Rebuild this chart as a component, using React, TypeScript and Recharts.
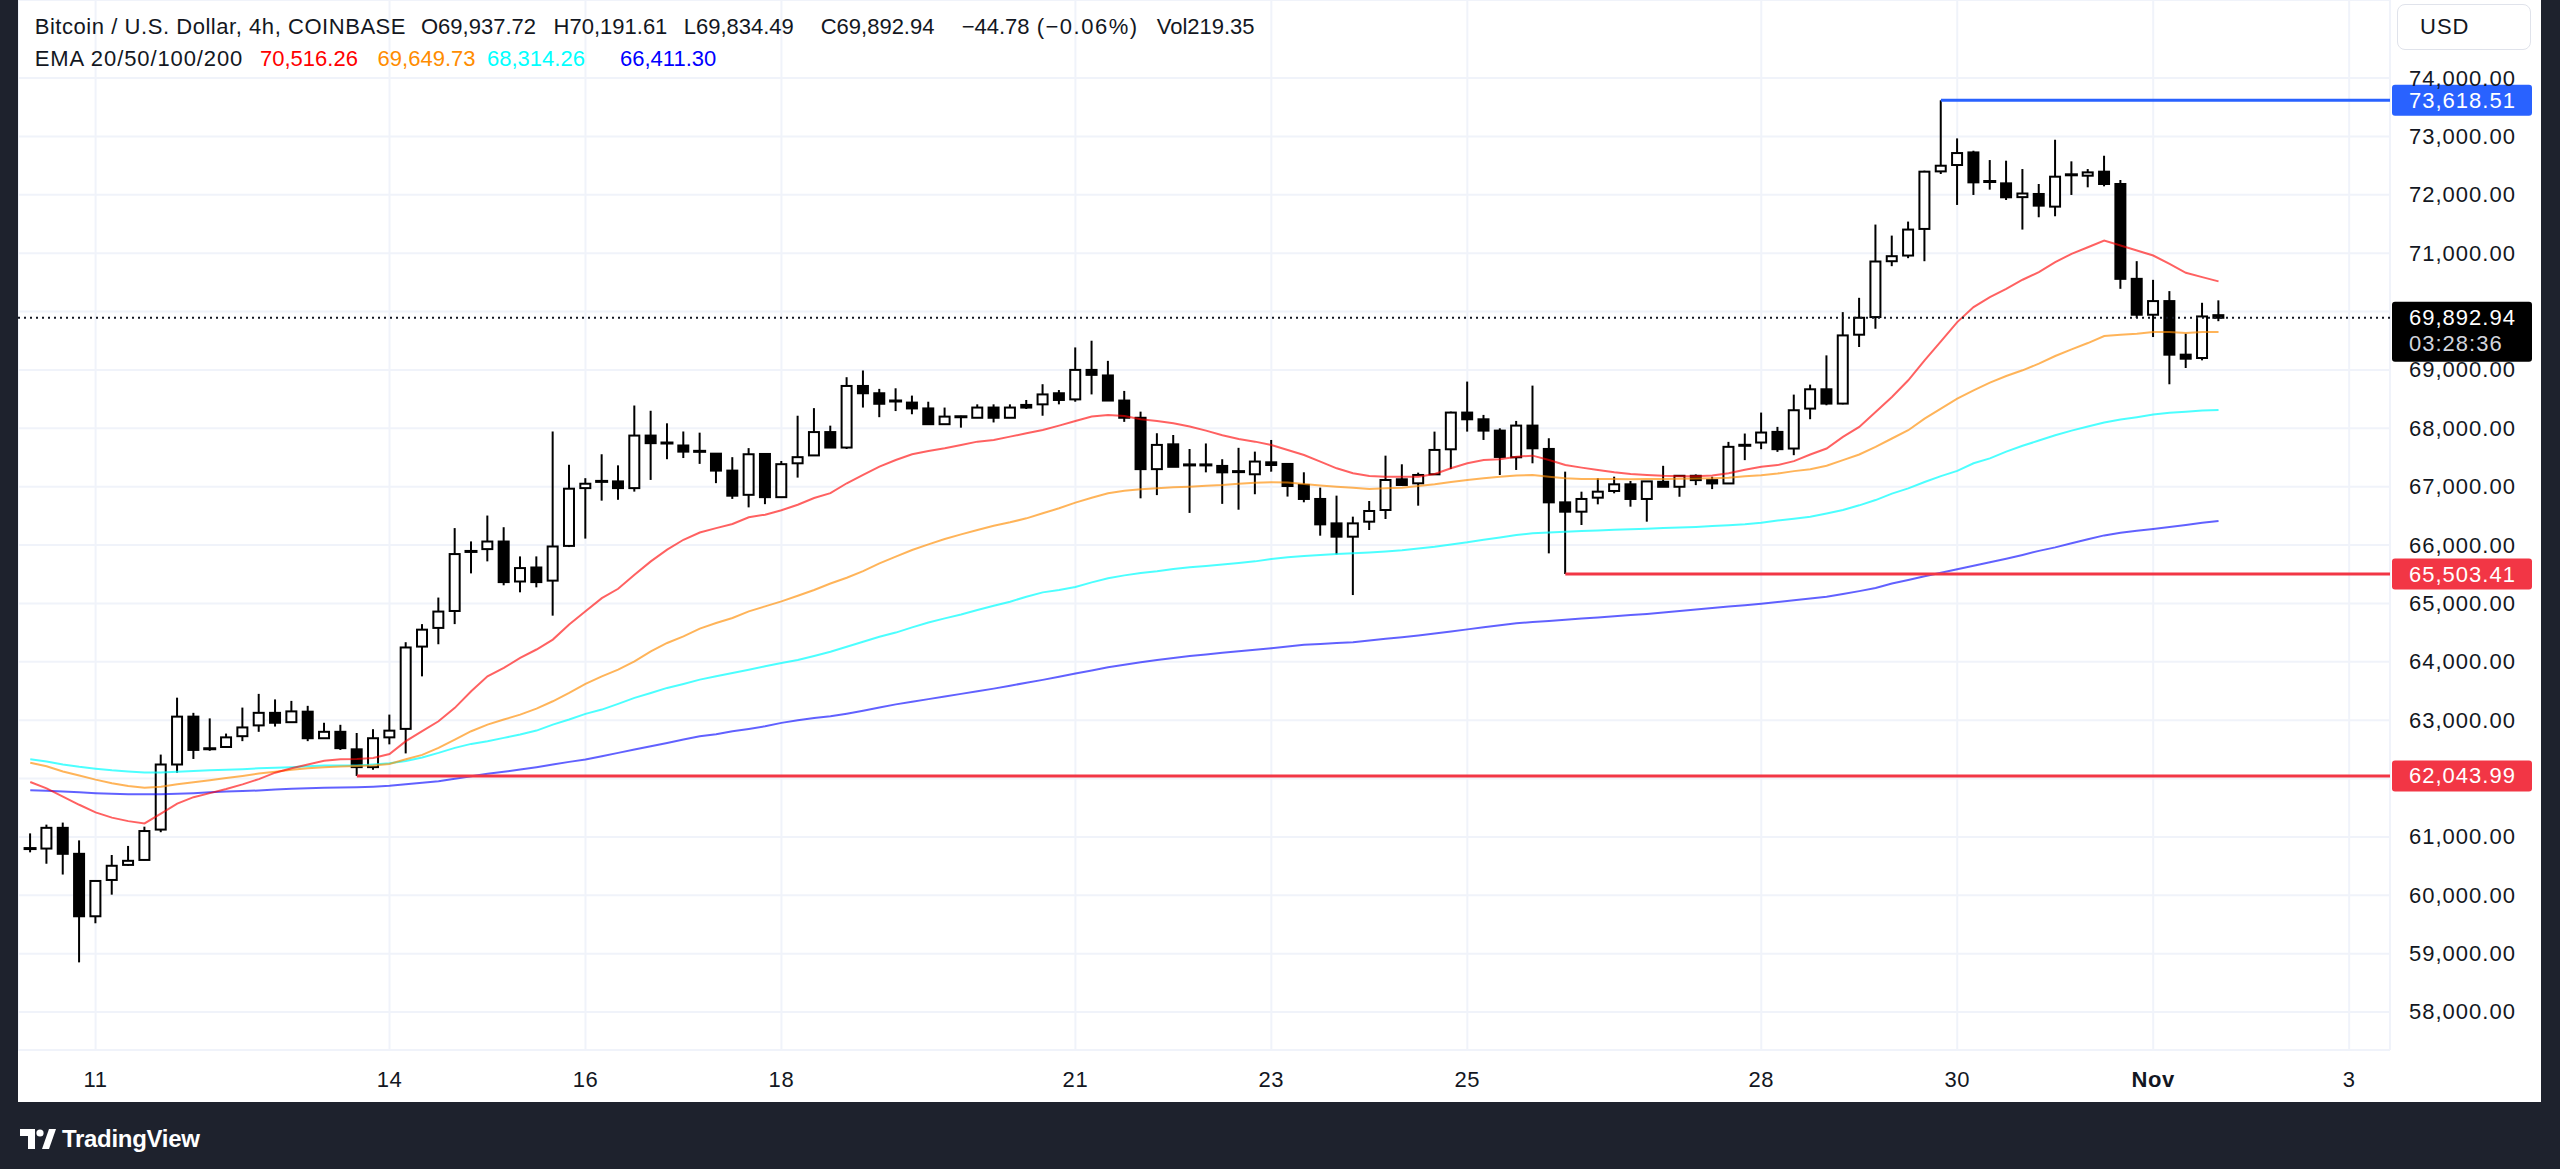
import React from 'react';
import { ComposedChart, Bar, Line, XAxis, YAxis, CartesianGrid, ReferenceLine } from 'recharts';

// ---------- data ----------
const candleStartIndex = -4; // first candle is 4 bars (16h) before Oct 11 00:00

const opens = [
  60790, 60800, 61155, 60710, 59640, 60262, 60520, 60605, 61125, 62240,
  63060, 62490, 62540, 62725, 62910, 63125, 62965, 63145, 62690, 62800,
  62500, 62195, 62705, 62850, 64260, 64580, 64870, 65880, 65930, 66060,
  65375, 65615, 65390, 65985, 66975, 67085, 67090, 66975, 67875, 67745,
  67705, 67610, 67565, 67275, 66860, 67560, 66820, 67400, 67535, 67935,
  67670, 68725, 68600, 68470, 68440, 68340, 68070, 68200, 68180, 68355,
  68180, 68400, 68410, 68600, 68495, 69000, 68905, 68475, 68180, 67300,
  67725, 67370, 67370, 67355, 67255, 67212, 67417, 67389, 67029, 66789,
  66371, 66143, 66400, 66600, 67126, 67057, 67211, 67640, 68269, 68154,
  67960, 67503, 68046, 67646, 66731, 66571, 66811, 66926, 67040, 66789,
  67083, 66998, 67186, 67112, 67055, 67705, 67756, 67938, 67653, 68337,
  68668, 68423, 69603, 69905, 70862, 70959, 71415, 72401, 72510, 72726,
  72230, 72196, 71960, 72014, 71797, 72340, 72327, 72396, 72185, 70560,
  69945, 70179, 69261, 69204, 69937.72,
];
const highs = [
  61060, 61210, 61245, 60940, 60260, 60690, 60845, 61175, 62410, 63385,
  63125, 63030, 62770, 63215, 63450, 63355, 63330, 63245, 62955, 62920,
  62780, 62845, 63095, 64335, 64645, 65100, 66290, 66062, 66505, 66305,
  65805, 65805, 67945, 67375, 67145, 67555, 67365, 68390, 68300, 68085,
  67945, 67925, 67575, 67505, 67660, 67575, 67440, 68215, 68345, 68045,
  68875, 68990, 68675, 68685, 68560, 68455, 68355, 68215, 68410, 68410,
  68410, 68485, 68755, 68655, 69385, 69500, 69155, 68640, 68285, 67915,
  67885, 67645, 67740, 67470, 67665, 67600, 67800, 67395, 67246, 66983,
  66846, 66486, 66754, 67531, 67383, 67240, 67943, 68286, 68800, 68229,
  68000, 68126, 68731, 67829, 67257, 66914, 67143, 67171, 67097, 67097,
  67357, 67186, 67209, 67169, 67767, 67910, 68269, 68024, 68577, 68748,
  69249, 69990, 70235, 71490, 71301, 71541, 72413, 73618.51, 72966, 72755,
  72595, 72584, 72441, 72185, 72943, 72573, 72441, 72669, 72253, 70863,
  70543, 70350, 69620, 70150, 70191.61,
];
const lows = [
  60735, 60540, 60355, 58850, 59520, 60010, 60505, 60600, 61080, 62100,
  62335, 62475, 62530, 62640, 62800, 62890, 62960, 62640, 62680, 62490,
  62043.99, 62150, 62585, 62430, 63750, 64300, 64645, 65514, 65720, 65310,
  65190, 65275, 64790, 65965, 66110, 66760, 66775, 66915, 67115, 67470,
  67490, 67390, 67060, 66790, 66645, 66700, 66815, 67155, 67530, 67665,
  67645, 68355, 68190, 68295, 68240, 68065, 68065, 68010, 68175, 68100,
  68175, 68330, 68215, 68410, 68455, 68580, 68470, 68110, 66800, 66855,
  67340, 66550, 67245, 66705, 66605, 66870, 67257, 66830, 66732, 66160,
  65840, 65143, 66257, 66446, 67017, 66674, 67200, 67303, 67943, 67800,
  67200, 67286, 67400, 65857, 65503.41, 66343, 66697, 66886, 66657, 66400,
  66998, 66827, 67026, 66958, 67055, 67454, 67642, 67596, 67539, 68155,
  68394, 68410, 69392, 69705, 70777, 70914, 70862, 72356, 71826, 71997,
  72088, 71911, 71404, 71615, 71632, 71997, 72128, 72145, 70389, 69888,
  69563, 68754, 69033, 69164, 69834.49,
];
const closes = [
  60810, 61155, 60710, 59640, 60245, 60505, 60590, 61100, 62240, 63060,
  62490, 62530, 62705, 62875, 63125, 62955, 63150, 62690, 62800, 62520,
  62195, 62690, 62820, 64245, 64550, 64860, 65845, 65900, 66060, 65365,
  65605, 65365, 65975, 66965, 67050, 67095, 66975, 67875, 67745, 67750,
  67600, 67600, 67275, 66845, 67555, 66820, 67385, 67505, 67935, 67670,
  68725, 68600, 68420, 68465, 68340, 68070, 68200, 68195, 68355, 68180,
  68355, 68355, 68580, 68485, 69000, 68915, 68475, 68180, 67300, 67715,
  67340, 67375, 67375, 67245, 67260, 67430, 67371, 67011, 66789, 66354,
  66143, 66371, 66583, 67114, 67029, 67200, 67629, 68269, 68154, 67960,
  67509, 68046, 67657, 66731, 66571, 66789, 66914, 67040, 66789, 67090,
  66998, 67186, 67112, 67055, 67682, 67712, 67927, 67642, 68309, 68668,
  68423, 69591, 69893, 70857, 70948, 71404, 72396, 72498, 72715, 72213,
  72225, 71957, 72022, 71814, 72310, 72345, 72384, 72185, 70560, 69945,
  70179, 69261, 69192, 69916, 69892.94,
];

const ema20 = [
  61940, 61830, 61690, 61550, 61420, 61330, 61270, 61230, 61400, 61570,
  61680, 61750, 61820, 61900, 61990, 62100, 62175, 62240, 62305, 62330,
  62335, 62350, 62420, 62640, 62810, 62980, 63210, 63495, 63750, 63895,
  64065, 64210, 64380, 64640, 64865, 65090, 65250, 65490, 65720, 65920,
  66090, 66215, 66290, 66360, 66475, 66520, 66595, 66690, 66805, 66888,
  67058, 67200, 67343, 67457, 67554, 67611, 67657, 67714, 67771, 67800,
  67857, 67914, 67971, 68046, 68126, 68200, 68229, 68211, 68154, 68126,
  68086, 68029, 67960, 67880, 67817, 67771, 67714, 67629, 67543, 67429,
  67314, 67229, 67183, 67171, 67171, 67171, 67217, 67314, 67400, 67457,
  67469, 67514, 67531, 67457, 67371, 67326, 67286, 67246, 67217, 67200,
  67186, 67180, 67180, 67190, 67230, 67290, 67340, 67369, 67437, 67551,
  67653, 67853, 68024, 68280, 68537, 68822, 69164, 69489, 69819, 70076,
  70247, 70389, 70545, 70675, 70846, 70988, 71102, 71216, 71130, 71045,
  70959, 70817, 70663, 70589, 70516.26,
];
const ema50 = [
  62270, 62210, 62121, 62050, 61981, 61920, 61870, 61842, 61860, 61900,
  61935, 61970, 62009, 62045, 62084, 62115, 62149, 62175, 62195, 62205,
  62213, 62225, 62250, 62330, 62405, 62525, 62667, 62810, 62924, 63010,
  63095, 63198, 63323, 63466, 63620, 63751, 63865, 64008, 64179, 64322,
  64436, 64567, 64664, 64750, 64864, 64949, 65035, 65130, 65230, 65340,
  65440, 65554, 65686, 65800, 65914, 66011, 66103, 66183, 66257, 66331,
  66389, 66457, 66543, 66629, 66726, 66811, 66886, 66931, 66954, 66971,
  66989, 67000, 67017, 67029, 67050, 67065, 67074, 67070, 67046, 67020,
  67000, 66980, 66960, 66971, 66983, 67010, 67040, 67080, 67114, 67145,
  67171, 67190, 67200, 67171, 67143, 67130, 67130, 67130, 67126, 67130,
  67130, 67135, 67140, 67145, 67152, 67180, 67197, 67226, 67266, 67300,
  67357, 67454, 67551, 67682, 67825, 67967, 68166, 68337, 68508, 68651,
  68782, 68896, 68993, 69107, 69238, 69352, 69460, 69580, 69603, 69620,
  69648, 69648, 69631, 69648, 69649.73,
];
const ema100 = [
  62330, 62290, 62241, 62200, 62167, 62140, 62121, 62102, 62102, 62115,
  62130, 62140, 62149, 62160, 62176, 62185, 62195, 62210, 62223, 62223,
  62225, 62240, 62260, 62300, 62360, 62439, 62525, 62593, 62639, 62696,
  62753, 62821, 62924, 63010, 63107, 63181, 63278, 63381, 63466, 63552,
  63620, 63694, 63751, 63808, 63865, 63922, 63980, 64030, 64100, 64171,
  64257, 64343, 64429, 64500, 64590, 64674, 64743, 64811, 64886, 64960,
  65029, 65114, 65189, 65230, 65280, 65360, 65430, 65480, 65520, 65550,
  65590, 65620, 65640, 65665, 65690, 65720, 65760, 65790, 65810, 65830,
  65846, 65860, 65874, 65890, 65910, 65940, 65971, 66010, 66046, 66090,
  66130, 66170, 66200, 66215, 66229, 66240, 66250, 66260, 66270, 66280,
  66290, 66300, 66310, 66325, 66340, 66354, 66380, 66420, 66450, 66485,
  66540, 66599, 66680, 66770, 66880, 66970, 67080, 67180, 67270, 67400,
  67484, 67600, 67700, 67790, 67880, 67960, 68030, 68100, 68150, 68190,
  68235, 68265, 68285, 68305, 68314.26,
];
const ema200 = [
  61800, 61790, 61777, 61763, 61749, 61740, 61730, 61730, 61730, 61740,
  61749, 61763, 61777, 61786, 61795, 61810, 61823, 61832, 61842, 61846,
  61851, 61860, 61875, 61900, 61926, 61954, 61994, 62040, 62080, 62114,
  62154, 62194, 62240, 62285, 62325, 62382, 62439, 62496, 62553, 62610,
  62667, 62724, 62760, 62810, 62850, 62896, 62953, 62998, 63038, 63065,
  63110, 63160, 63215, 63270, 63315, 63360, 63405, 63450, 63495, 63540,
  63590, 63640, 63690, 63745, 63800, 63850, 63905, 63950, 63990, 64030,
  64065, 64100, 64126, 64155, 64180, 64205, 64230, 64260, 64290, 64305,
  64320, 64335, 64365, 64395, 64420, 64450, 64485, 64520, 64555, 64590,
  64625, 64660, 64680, 64700, 64720, 64740, 64760, 64780, 64800, 64820,
  64845, 64870, 64895, 64920, 64945, 64970, 64995, 65025, 65055, 65085,
  65115, 65160, 65210, 65265, 65340, 65400, 65465, 65525, 65585, 65645,
  65705, 65765, 65830, 65900, 65960, 66030, 66100, 66165, 66210, 66245,
  66275, 66310, 66345, 66380, 66411.3,
];

const dayTickIndex = [0, 18, 30, 42, 60, 72, 84, 102, 114, 126, 138];
const dayTickLabels = ['11', '14', '16', '18', '21', '23', '25', '28', '30', 'Nov', '3'];
const boldTickLabels = ['Nov'];

const priceTicks = [58000, 59000, 60000, 61000, 62000, 63000, 64000, 65000, 66000, 67000, 68000, 69000, 70000, 71000, 72000, 73000, 74000];
const hiddenPriceTicks = [62000, 70000];

const xDomain = [-4.75, 140.5];
const yDomain = [57349, 75337];

const highLevel = { price: 73618.51, fromIndex: 113 };
const midLevel = { price: 65503.41, fromIndex: 90 };
const lowLevel = { price: 62043.99, fromIndex: 16 };
const lastPrice = 69892.94;
const countdown = '03:28:36';

const titleText = 'Bitcoin / U.S. Dollar, 4h, COINBASE';
const ohlcTexts = ['O69,937.72', 'H70,191.61', 'L69,834.49', 'C69,892.94', '\u221244.78', '(\u22120.06%)', 'Vol219.35'];
const emaTitle = 'EMA 20/50/100/200';
const emaValues = ['70,516.26', '69,649.73', '68,314.26', '66,411.30'];
const emaColors = ['#ff0000', '#ff8c00', '#00ffff', '#0000ff'];

// ---------- helpers ----------
const rows = opens.map((o, i) => ({
  k: i + candleStartIndex,
  open: o,
  high: highs[i],
  low: lows[i],
  close: closes[i],
  range: [lows[i], highs[i]],
  ema20: ema20[i],
  ema50: ema50[i],
  ema100: ema100[i],
  ema200: ema200[i],
}));

const FONT = "'Liberation Sans', Arial, sans-serif";
const TEXT = '#131722';
const fmt = (v: number) => v.toLocaleString('en-US', { minimumFractionDigits: 2, maximumFractionDigits: 2 });

const Candle = (props: any) => {
  const { x, y, width, height, payload } = props;
  if (!payload || height == null || isNaN(y)) return null;
  const { open, close, high, low } = payload;
  const top = Math.min(y, y + height);
  const h = Math.abs(height);
  const ratio = h / (high - low);
  const py = (v: number) => top + (high - v) * ratio;
  const cx = x + width / 2;
  const yO = py(open);
  const yC = py(close);
  const bodyTop = Math.min(yO, yC);
  const bodyH = Math.abs(yO - yC);
  const up = close >= open;
  let body;
  if (bodyH < 2.5) {
    body = <rect x={cx - 6.5} y={(yO + yC) / 2 - 1.5} width={13} height={3} fill="#000" />;
  } else if (up) {
    body = <rect x={cx - 5} y={bodyTop} width={10} height={bodyH} fill="#fff" stroke="#000" strokeWidth={2} />;
  } else {
    body = <rect x={cx - 6} y={bodyTop - 1} width={12} height={bodyH + 2} fill="#000" />;
  }
  return (
    <g>
      <line x1={cx} x2={cx} y1={top} y2={top + h} stroke="#000" strokeWidth={2} />
      {body}
    </g>
  );
};

const XTick = (props: any) => {
  const { x, y, payload } = props;
  const idx = dayTickIndex.indexOf(payload.value);
  const label = idx >= 0 ? dayTickLabels[idx] : '';
  return (
    <text x={x} y={y + 29} textAnchor="middle" dominantBaseline="central" fontSize={22}
      fontFamily={FONT} fill={TEXT} letterSpacing={0.6} fontWeight={boldTickLabels.includes(label) ? 700 : 400}>
      {label}
    </text>
  );
};

const YTick = (props: any) => {
  const { x, y, payload } = props;
  if (hiddenPriceTicks.includes(payload.value)) return <g />;
  return (
    <text x={x + 19} y={y} dominantBaseline="central" fontSize={22} fontFamily={FONT} fill={TEXT} letterSpacing={1}>
      {fmt(payload.value)}
    </text>
  );
};

const PriceTag = (props: any) => {
  const { viewBox, price, bg, sub } = props;
  if (!viewBox) return null;
  const right = viewBox.x + viewBox.width;
  const cy = viewBox.y;
  const h = sub ? 60 : 31;
  const top = sub ? cy - 16 : cy - 15.5;
  return (
    <g>
      <rect x={right + 2} y={top} width={140} height={h} rx={3} fill={bg} />
      <text x={right + 19} y={cy} dominantBaseline="central" fill="#fff" fontSize={22} fontFamily={FONT} letterSpacing={1}>
        {fmt(price)}
      </text>
      {sub ? (
        <text x={right + 19} y={cy + 26} dominantBaseline="central" fill="#d1d4dc" fontSize={22} fontFamily={FONT} letterSpacing={1}>
          {sub}
        </text>
      ) : null}
    </g>
  );
};

const legendLeft1 = [16.7, 403, 535.6, 665.7, 802.7, 943.7, 1018.7, 1138.7];
const legendLeft2 = [16.7, 242, 359.6, 469, 602];

export default function App() {
  const textStyle = (left: number, top: number, color: string, ls = 0): React.CSSProperties => ({
    position: 'absolute', left, top, fontSize: 22, lineHeight: '26px', color, fontFamily: FONT, whiteSpace: 'nowrap', letterSpacing: ls,
  });
  return (
    <div style={{ position: 'absolute', left: 0, top: 0, width: 2560, height: 1169, background: '#1e222d', overflow: 'hidden', fontFamily: FONT }}>
      <div style={{ position: 'absolute', left: 18, top: 0, width: 2523, height: 1102, background: '#ffffff' }}>
        <ComposedChart width={2523} height={1102} data={rows} margin={{ top: 0, right: 0, bottom: 0, left: 0 }}>
          <CartesianGrid stroke="#f0f3fa" strokeWidth={2} />
          <XAxis dataKey="k" type="number" domain={xDomain} allowDataOverflow ticks={dayTickIndex} interval={0}
            height={52} tickSize={0} tickMargin={0} axisLine={false} tickLine={false} tick={(p: any) => <XTick {...p} />} />
          <YAxis orientation="right" type="number" domain={yDomain} allowDataOverflow ticks={priceTicks} interval={0}
            width={151} tickSize={0} tickMargin={0} axisLine={false} tickLine={false} tick={(p: any) => <YTick {...p} />} />
          <Line dataKey="ema200" type="linear" stroke="#0000ff" strokeOpacity={0.62} strokeWidth={2} dot={false} isAnimationActive={false} />
          <Line dataKey="ema100" type="linear" stroke="#00ffff" strokeOpacity={0.7} strokeWidth={2} dot={false} isAnimationActive={false} />
          <Line dataKey="ema50" type="linear" stroke="#ff8c00" strokeOpacity={0.65} strokeWidth={2} dot={false} isAnimationActive={false} />
          <Line dataKey="ema20" type="linear" stroke="#ff0000" strokeOpacity={0.62} strokeWidth={2} dot={false} isAnimationActive={false} />
          <ReferenceLine y={lastPrice} stroke="#131722" strokeWidth={2} strokeDasharray="2 4"
            label={<PriceTag price={lastPrice} bg="#000000" sub={countdown} />} />
          <ReferenceLine segment={[{ x: lowLevel.fromIndex, y: lowLevel.price }, { x: xDomain[1], y: lowLevel.price }]}
            stroke="#f23645" strokeWidth={3} label={<PriceTag price={lowLevel.price} bg="#f23645" />} />
          <ReferenceLine segment={[{ x: midLevel.fromIndex, y: midLevel.price }, { x: xDomain[1], y: midLevel.price }]}
            stroke="#f23645" strokeWidth={3} label={<PriceTag price={midLevel.price} bg="#f23645" />} />
          <ReferenceLine segment={[{ x: highLevel.fromIndex, y: highLevel.price }, { x: xDomain[1], y: highLevel.price }]}
            stroke="#2962ff" strokeWidth={3} label={<PriceTag price={highLevel.price} bg="#2962ff" />} />
          <Bar dataKey="range" barSize={12} isAnimationActive={false} shape={(p: any) => <Candle {...p} />} />
        </ComposedChart>

        <div style={textStyle(legendLeft1[0], 14, TEXT, 0.55)}>{titleText}</div>
        {ohlcTexts.map((t, i) => (
          <div key={t} style={textStyle(legendLeft1[i + 1], 14, TEXT, i === 5 ? 1.5 : 0)}>{t}</div>
        ))}
        <div style={textStyle(legendLeft2[0], 46, TEXT, 0.9)}>{emaTitle}</div>
        {emaValues.map((t, i) => (
          <div key={t} style={textStyle(legendLeft2[i + 1], 46, emaColors[i])}>{t}</div>
        ))}

        <div style={{ position: 'absolute', left: 2379, top: 4, width: 134, height: 46, border: '1px solid #e0e3eb', borderRadius: 8, boxSizing: 'border-box' }}>
          <div style={{ position: 'absolute', left: 22, top: 9, fontSize: 22, lineHeight: '26px', color: TEXT, fontFamily: FONT, letterSpacing: 1 }}>USD</div>
        </div>
      </div>

      <div style={{ position: 'absolute', left: 20, top: 1126, height: 26, display: 'flex', alignItems: 'center' }}>
        <svg width={36} height={22} viewBox="0 0 36 22">
          <path d="M0 1 H15 V21 H8 V8 H0 Z" fill="#ffffff" />
          <circle cx={20} cy={5} r={3.6} fill="#ffffff" />
          <path d="M22 21 L29 1 H36 L29 21 Z" fill="#ffffff" />
        </svg>
        <span style={{ marginLeft: 6, fontSize: 24, fontWeight: 700, color: '#ffffff', fontFamily: FONT, letterSpacing: -0.3 }}>TradingView</span>
      </div>
    </div>
  );
}
